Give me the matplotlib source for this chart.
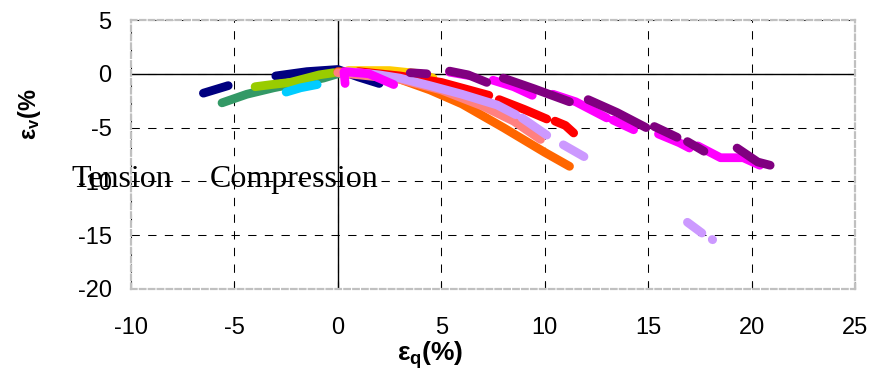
import numpy as np
import matplotlib
matplotlib.use("Agg")
import matplotlib.pyplot as plt

plt.rcParams['font.family'] = ['Liberation Sans', 'DejaVu Sans']
plt.rcParams['mathtext.fontset'] = 'custom'
plt.rcParams['mathtext.rm'] = 'Liberation Sans'
plt.rcParams['mathtext.bf'] = 'Liberation Sans:bold'
plt.rcParams['axes.unicode_minus'] = False

nan = np.nan

# test curves: eps_q (%) vs eps_v (%), gaps in the records are nan
navy_x = [-6.5, -5.3, nan, -3.0, -1.5, 0.0, 1.0, 2.0]
navy_y = [-1.8, -1.1, nan, -0.2, 0.2, 0.4, -0.3, -0.9]

green_x = [-5.6, -4.4, -3.1, -1.8, -0.7, 0.0]
green_y = [-2.7, -1.9, -1.3, -0.8, -0.4, 0.0]

ygreen_x = [-4.0, -3.2, -2.3, -1.5, -0.9, -0.2]
ygreen_y = [-1.2, -1.0, -0.8, -0.4, -0.1, 0.1]

cyan_x = [-2.5, -1.8, -1.0]
cyan_y = [-1.7, -1.3, -1.0]

gold_x = [0.5, 2.5, 4.0, 4.6]
gold_y = [0.3, 0.3, 0.0, -0.4]

orange_x = [0.0, 2.0, 3.0, 4.45, 6.0, 8.0, 10.0, 11.2]
orange_y = [0.2, -0.1, -0.5, -1.5, -2.8, -5.0, -7.3, -8.6]

red_x = [1.0, 3.0, 5.0, 7.3, nan, 7.8, 9.0, 10.1, nan, 10.5, 11.0, 11.4]
red_y = [0.2, -0.2, -0.8, -2.0, nan, -2.4, -3.3, -4.2, nan, -4.4, -4.8, -5.5]

salmon_x = [0.0, 3.0, 5.0, 7.0, 8.5, 9.8]
salmon_y = [0.1, -0.5, -1.5, -3.0, -4.4, -6.1]

lilac_x = [0.5, 2.0, 3.0, 4.45, 6.0, 7.7, 8.6, nan, 8.9, 10.1, nan,
           10.9, 11.9, nan, 16.9, 17.6, nan, 18.1, 18.12]
lilac_y = [0.2, -0.1, -0.4, -1.1, -1.9, -2.9, -3.8, nan, -4.1, -5.7, nan,
           -6.6, -7.7, nan, -13.8, -14.8, nan, -15.4, -15.42]

magenta_x = [0.3, 1.5, 2.7, nan, 0.3, 0.35, nan,
             5.4, 6.3, nan, 7.5, 8.5, 9.4, nan, 10.4, 11.5, 13.0, nan,
             13.3, 14.3, nan, 15.5, 16.5, 17.0, nan, 17.4, 18.5, 19.6, 20.4]
magenta_y = [0.2, 0.0, -1.0, nan, 0.1, -0.9, nan,
             0.15, -0.15, nan, -0.6, -1.2, -2.0, nan, -1.9, -2.6, -4.1, nan,
             -4.3, -5.2, nan, -5.6, -6.4, -6.9, nan, -6.7, -7.8, -7.8, -8.5]

purple_x = [3.5, 4.3, nan, 5.4, 6.3, 7.2, nan, 8.0, 9.5, 11.2, nan,
            12.1, 13.5, 14.9, nan, 15.3, 16.4, nan, 16.9, 17.7, nan, 19.3, 20.3, 20.9]
purple_y = [0.1, 0.0, nan, 0.25, -0.1, -0.8, nan, -0.4, -1.4, -2.6, nan,
            -2.4, -3.6, -5.0, nan, -4.9, -5.9, nan, -6.3, -7.2, nan, -6.9, -8.2, -8.5]

series = [
    (navy_x, navy_y, '#000080'),
    (green_x, green_y, '#339966'),
    (ygreen_x, ygreen_y, '#99CC00'),
    (cyan_x, cyan_y, '#00CCFF'),
    (gold_x, gold_y, '#FFCC00'),
    (orange_x, orange_y, '#FF6600'),
    (red_x, red_y, '#FF0000'),
    (salmon_x, salmon_y, '#FF8080'),
    (lilac_x, lilac_y, '#CC99FF'),
    (magenta_x, magenta_y, '#FF00FF'),
    (purple_x, purple_y, '#800080'),
]

xticks = [-10, -5, 0, 5, 10, 15, 20, 25]
yticks = [-20, -15, -10, -5, 0, 5]

fig = plt.figure(figsize=(8.71, 3.76), dpi=100)
ax = fig.add_axes([0.1504, 0.2314, 0.8312, 0.7154])

ax.set_xlim(-10, 25)
ax.set_ylim(-20, 5)
ax.set_xticks(xticks)
ax.set_yticks(yticks)
ax.grid(True, color='black', linestyle=(0, (8, 8)), linewidth=0.75)
ax.axhline(0, color='black', lw=1, zorder=1.5)
ax.axvline(0, color='black', lw=1, zorder=1.5)

for s in ax.spines.values():
    s.set_color('#C0C0C0')
    s.set_linestyle((0, (2.5, 1.5)))
    s.set_linewidth(1.6)

ax.tick_params(direction='in', length=5, width=0.8, labelsize=17,
               colors='black')
ax.tick_params(axis='x', pad=20)
ax.tick_params(axis='y', pad=14, length=0)

for xs, ys, c in series:
    ax.plot(xs, ys, color=c, lw=6.3, solid_capstyle='round',
            solid_joinstyle='round', zorder=3)

ax.text(-12.9, -10.5, 'Tension', family='Liberation Serif', fontsize=23,
        clip_on=False, zorder=5)
ax.text(-6.2, -10.5, 'Compression', family='Liberation Serif', fontsize=23,
        clip_on=False, zorder=5)

fig.text(0.494, 0.055, r'$\mathbf{ε_q(\%)}$', ha='center', va='center',
         fontsize=19)
fig.text(0.034, 0.695, r'$\mathbf{ε_v(\%}$', ha='center', va='center',
         fontsize=17, rotation=90)

fig.savefig('out.png', dpi=100)
